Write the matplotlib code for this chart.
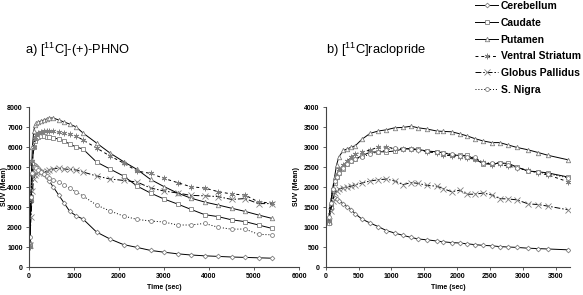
import matplotlib
matplotlib.use('Agg')
import matplotlib.pyplot as plt

# Regions (legend order)
regions = ['Cerebellum', 'Caudate', 'Putamen', 'Ventral Striatum', 'Globus Pallidus', 'S. Nigra']

# a) [11C]-(+)-PHNO time activity curves (SUV)
phno_t = [15, 45, 75, 105, 135, 165, 210, 270, 330, 390, 450, 540, 660, 780, 900, 1050,
          1200, 1500, 1800, 2100, 2400, 2700, 3000, 3300, 3600, 3900, 4200, 4500, 4800, 5100, 5400]
phno_cer = [1200, 3300, 4600, 5000, 5100, 5050, 4950, 4800, 4650, 4500, 4300, 4000, 3600, 3200, 2800, 2550,
            2400, 1750, 1400, 1120, 980, 830, 740, 660, 600, 560, 530, 500, 480, 460, 440]
phno_cau = [1100, 3500, 5200, 6000, 6300, 6450, 6500, 6550, 6550, 6500, 6500, 6450, 6400, 6300, 6150, 6000,
            5900, 5250, 4900, 4550, 4050, 3700, 3400, 3150, 2880, 2620, 2520, 2360, 2270, 2100, 1930]
phno_put = [1200, 4000, 6000, 6800, 7100, 7200, 7250, 7300, 7350, 7400, 7450, 7450, 7350, 7250, 7150, 7000,
            6700, 6200, 5700, 5270, 4880, 4380, 4020, 3700, 3440, 3250, 3100, 2940, 2780, 2600, 2430]
phno_vs = [1000, 3300, 5300, 6000, 6400, 6600, 6700, 6750, 6800, 6800, 6800, 6800, 6750, 6700, 6650, 6550,
           6350, 5950, 5550, 5200, 4800, 4680, 4430, 4220, 4010, 3950, 3770, 3650, 3600, 3250, 3200]
phno_gp = [1100, 2500, 3800, 4400, 4600, 4700, 4750, 4750, 4700, 4800, 4850, 4900, 4950, 4900, 4880, 4850,
           4750, 4550, 4400, 4330, 4250, 3950, 3800, 3700, 3580, 3560, 3520, 3380, 3420, 3170, 3170]
phno_sn = [1500, 3500, 4700, 5000, 5000, 4950, 4850, 4750, 4650, 4550, 4450, 4350, 4250, 4100, 3950, 3750,
           3550, 3100, 2800, 2550, 2380, 2300, 2250, 2100, 2100, 2180, 1990, 1890, 1900, 1630, 1610]

# b) [11C]raclopride time activity curves (SUV)
rac_t = [45, 75, 105, 135, 165, 200, 270, 330, 390, 450, 550, 675, 800, 925, 1050, 1180, 1300,
         1410, 1540, 1690, 1790, 1920, 2040, 2150, 2270, 2400, 2530, 2650, 2780, 2910, 3080, 3240, 3390, 3690]
rac_cer = [1100, 1450, 1700, 1730, 1690, 1650, 1580, 1500, 1430, 1330, 1200, 1100, 1010, 910, 850, 790, 740,
           700, 680, 650, 630, 610, 600, 580, 560, 540, 530, 510, 500, 490, 470, 460, 450, 430]
rac_cau = [1100, 1500, 1900, 2100, 2250, 2350, 2450, 2570, 2650, 2700, 2780, 2870, 2880, 2880, 2900, 2950, 2960,
           2940, 2900, 2880, 2860, 2800, 2790, 2790, 2700, 2580, 2570, 2600, 2590, 2500, 2400, 2380, 2350, 2250]
rac_put = [1200, 1600, 1950, 2250, 2550, 2750, 2920, 2950, 3000, 3030, 3190, 3340, 3400, 3430, 3480, 3490, 3520,
           3480, 3450, 3400, 3390, 3380, 3330, 3280, 3210, 3150, 3110, 3110, 3050, 2990, 2930, 2860, 2790, 2680]
rac_vs = [1150, 1550, 1950, 2150, 2300, 2450, 2550, 2650, 2750, 2820, 2880, 2920, 3000, 3000, 2960, 2960, 2950,
          2920, 2880, 2850, 2800, 2780, 2760, 2720, 2700, 2620, 2560, 2570, 2520, 2480, 2420, 2350, 2300, 2130]
rac_gp = [1150, 1400, 1650, 1850, 1900, 1950, 1980, 2000, 2020, 2050, 2100, 2150, 2180, 2200, 2150, 2060, 2110,
          2090, 2040, 2020, 1960, 1880, 1920, 1820, 1820, 1850, 1800, 1710, 1700, 1680, 1580, 1560, 1520, 1430]
rac_sn = [1250, 1600, 1950, 2150, 2250, 2350, 2480, 2580, 2650, 2700, 2750, 2820, 2880, 2920, 2980, 2960, 2950,
          2920, 2900, 2870, 2860, 2820, 2780, 2760, 2740, 2600, 2600, 2610, 2560, 2480, 2400, 2370, 2330, 2230]

phno = [phno_cer, phno_cau, phno_put, phno_vs, phno_gp, phno_sn]
rac = [rac_cer, rac_cau, rac_put, rac_vs, rac_gp, rac_sn]

# Excel-like styles per region
markers = ['D', 's', '^', (6, 2, 0), 'x', 'o']
msizes = [2.4, 3.0, 3.2, 4.0, 4.0, 2.8]
lstyles = ['-', '-', '-', (0, (3, 3)), (0, (6, 2, 1.5, 2)), (0, (1, 2))]

plt.rcParams['font.family'] = ['Liberation Sans', 'DejaVu Sans']
plt.rcParams['mathtext.fontset'] = 'custom'
plt.rcParams['mathtext.rm'] = 'Liberation Sans'
plt.rcParams['mathtext.it'] = 'Liberation Sans'

tickfont = {'family': ['Liberation Sans Narrow', 'Liberation Sans'], 'weight': 'bold', 'size': 5}

fig = plt.figure(figsize=(5.83, 2.95), dpi=100)
ax1 = fig.add_axes([29 / 583, 1 - 267 / 295, 270 / 583, 160 / 295])
ax2 = fig.add_axes([325.7 / 583, 1 - 267 / 295, 244.3 / 583, 160 / 295])


def draw(ax, t, series, xmax, xstep, ymax, ystep, ylab_x):
    handles = []
    for vals, m, ms, ls, lab in zip(series, markers, msizes, lstyles, regions):
        h, = ax.plot(t, vals, color='black', lw=0.7, linestyle=ls, marker=m, markersize=ms,
                     markerfacecolor='white', markeredgecolor='#808080', markeredgewidth=0.6,
                     label=lab)
        handles.append(h)
    ax.set_xlim(0, xmax)
    ax.set_ylim(0, ymax)
    ax.set_xticks(range(0, int(xmax) + 1, xstep))
    ax.set_yticks(range(0, ymax + 1, ystep))
    for s in ['top', 'right']:
        ax.spines[s].set_visible(False)
    for s in ['left', 'bottom']:
        ax.spines[s].set_color('#444444')
        ax.spines[s].set_linewidth(0.8)
    ax.tick_params(direction='out', length=2.5, width=0.6, colors='#444444', pad=2)
    for lbl in ax.get_xticklabels() + ax.get_yticklabels():
        lbl.set_fontproperties(tickfont)
        lbl.set_color('black')
    ax.set_xlabel('Time (sec)', fontdict=tickfont, labelpad=3)
    ax.set_ylabel('SUV (Mean)', fontdict=tickfont)
    ax.yaxis.set_label_coords(ylab_x / 583, 1 - 187 / 295, transform=fig.transFigure)
    return handles


handles = draw(ax1, phno_t, phno, 6000, 1000, 8000, 1000, 8)
draw(ax2, rac_t, rac, 3720, 500, 4000, 500, 300)

fig.text(25 / 583, 1 - 50 / 295, r'a) [$^{11}$C]-(+)-PHNO', fontsize=9.3, va='center', ha='left')
fig.text(326 / 583, 1 - 50 / 295, r'b) [$^{11}$C]raclopride', fontsize=9.3, va='center', ha='left')

fig.legend(handles=handles, loc='upper left', bbox_to_anchor=(474 / 583, 1.0), frameon=False,
           prop={'weight': 'bold', 'size': 7.5}, handlelength=2.2, handletextpad=0.25,
           labelspacing=0.65, borderaxespad=0, borderpad=0.1)

fig.savefig('out.png', dpi=100)
